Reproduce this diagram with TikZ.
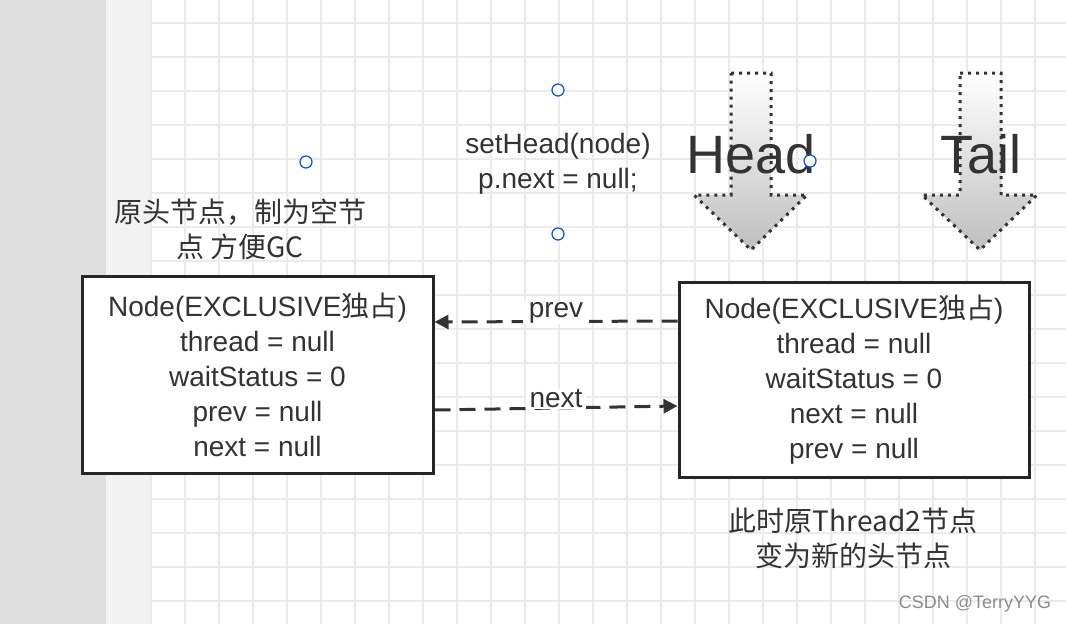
\documentclass[tikz,border=0pt]{standalone}
\usepackage{fontspec}
\setmainfont{Liberation Sans}
\newfontfamily\cjk{Noto Sans CJK SC}
\usetikzlibrary{arrows.meta}
\definecolor{txt}{HTML}{333333}
\definecolor{gridc}{HTML}{EBEBEB}
\begin{document}
\begin{tikzpicture}[x=1pt,y=-1pt,
  box/.style={draw=black!85,line width=3pt,fill=white},
  lbl/.style={text=txt,font=\fontsize{28}{35}\selectfont,align=center},
  conn/.style={draw=txt,line width=3pt,dash pattern=on 16pt off 9pt,-{Triangle[length=14pt,width=14pt]}},
  bigarrow/.style={top color=white,bottom color=black!25,draw=txt,line width=3pt,dash pattern=on 3pt off 5pt},
  handle/.style={draw=blue!70!cyan,line width=1.2pt,fill=white,circle,inner sep=0pt,minimum size=12pt}]
\useasboundingbox (0,0) rectangle (1066,624);
\fill[white] (0,0) rectangle (1066,624);
\fill[black!13] (0,0) rectangle (106,624);
\fill[black!5] (106,0) rectangle (151,624);
\foreach \x in {151,185,...,1066} \draw[gridc,line width=1.5pt] (\x,0) -- (\x,624);
\foreach \y in {23,57,...,624} \draw[gridc,line width=1.5pt] (151,\y) -- (1066,\y);
% big arrows
\path[bigarrow] (731,73) -- (771,73) -- (771,195) -- (807,195) -- (751,250) -- (694,195) -- (731,195) -- cycle;
\path[bigarrow] (960,73) -- (1001,73) -- (1001,195) -- (1037,195) -- (980,250) -- (922,195) -- (960,195) -- cycle;
\node[text=txt,font=\fontsize{54}{54}\selectfont] (head) at (751,154) {Head};
\node[text=txt,font=\fontsize{54}{54}\selectfont] (tail) at (981,154) {Tail};
% boxes
\node[box,lbl,minimum width=351pt,minimum height=197pt] (L) at (257.5,374.5) {Node(EXCLUSIVE{\cjk 独占})\\thread = null\\waitStatus = 0\\prev = null\\next = null};
\node[box,lbl,minimum width=350pt,minimum height=195pt] (R) at (854,379.5) {Node(EXCLUSIVE{\cjk 独占})\\thread = null\\waitStatus = 0\\next = null\\prev = null};
\coordinate (Rp) at (R.west |- 0,321);
\coordinate (Lp) at (L.east |- 0,322);
\coordinate (Ln) at (L.east |- 0,410);
\coordinate (Rn) at (R.west |- 0,406);
\draw[conn] (Rp) -- (Lp) node[pos=0.5,yshift=9pt,fill=white,lbl,inner ysep=1pt,inner xsep=6pt] {prev};
\draw[conn] (Ln) -- (Rn) node[pos=0.5,yshift=9pt,fill=white,lbl,inner ysep=1pt,inner xsep=4pt] {next};
% texts
\node[lbl] (t1) at (558,164) {setHead(node)\\p.next = null;};
\node[lbl,font=\cjk\fontsize{28}{35}\selectfont] (t2) at (240,229) {原头节点，制为空节\\点 方便GC};
\node[lbl,font=\cjk\fontsize{28}{35}\selectfont] (t3) at (853,538) {此时原Thread2节点\\变为新的头节点};
\node[text=black!45,font=\fontsize{18}{18}\selectfont] (wm) at (975,604) {CSDN @TerryYYG};
% handles
\node[handle] (h1) at (306,162) {};
\node[handle] (h2) at (558,90) {};
\node[handle] (h3) at (558,234) {};
\node[handle] (h4) at (810,161) {};
\end{tikzpicture}
\end{document}
